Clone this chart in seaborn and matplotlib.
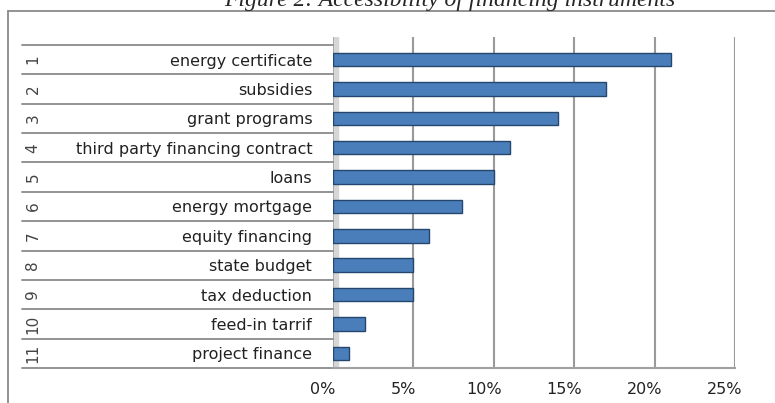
import numpy as np
import pandas as pd
import seaborn as sns
import matplotlib.pyplot as plt
from matplotlib import transforms
from matplotlib.lines import Line2D

# data (percent)
instrumente = ['energy certificate', 'subsidies', 'grant programs',
               'third party financing contract', 'loans', 'energy mortgage',
               'equity financing', 'state budget', 'tax deduction',
               'feed-in tarrif', 'project finance']
numere = ['1', '2', '3', '4', '5', '6', '7', '8', '9', '10', '11']
procente = [21, 17, 14, 11, 10, 8, 6, 5, 5, 2, 1]
ticks_x = [0, 5, 10, 15, 20, 25]
titlu = 'Figure 2: Accessibility of financing instruments'

sns.set_style('white')
plt.rcParams['font.family'] = ['DejaVu Sans']

W, H = 775, 403
fig = plt.figure(figsize=(W / 100, H / 100), dpi=100)
ax = fig.add_axes([333 / W, 1 - 368 / H, 402 / W, 331 / H])

df = pd.DataFrame({'Instrument': instrumente, 'Procent': procente})
sns.barplot(data=df, x='Procent', y='Instrument', orient='h', ax=ax,
            color='#4a7ebb', edgecolor='#25466e', linewidth=1.0,
            width=0.46, saturation=1)

ax.set_xlim(0, 25)
ax.set_ylim(len(instrumente) - 0.5, -0.5 - 0.27)
ax.set_xlabel('')
ax.set_ylabel('')
for s in ['top', 'right', 'left']:
    ax.spines[s].set_visible(False)
ax.spines['bottom'].set_color('#a0a0a0')
ax.spines['bottom'].set_linewidth(1.5)

# grid lines (back wall)
for v in ticks_x[1:]:
    ax.axvline(v, color='#9a9a9a', lw=1.5, zorder=0)
ax.axvspan(0, 0.3, color='#d6d6d6', zorder=0)
ax.axvline(0, color='#a0a0a0', lw=1.2, zorder=0)

ax.set_xticks(ticks_x)
ax.set_xticklabels([f'{t}%' for t in ticks_x], fontsize=11.5, color='#222222')
ax.tick_params(axis='x', length=0, pad=10)
off = transforms.ScaledTranslation(-10 / 100, 0, fig.dpi_scale_trans)
for lab in ax.get_xticklabels():
    lab.set_transform(lab.get_transform() + off)

ax.tick_params(axis='y', length=0, pad=15)
for lab in ax.get_yticklabels():
    lab.set_fontsize(11.5)
    lab.set_color('#222222')

# left table: row lines and numbers
tr = transforms.blended_transform_factory(fig.transFigure, ax.transData)
for i in range(len(instrumente) + 1):
    ax.add_line(Line2D([22 / W, 333 / W], [i - 0.5, i - 0.5], transform=tr,
                       color='#8a8a8a', lw=1.3, clip_on=False))
for i, n in enumerate(numere):
    ax.text(33 / W, i, n, transform=tr, rotation=90, ha='center',
            va='center', fontsize=11, color='#444444')

# outer frame and clipped title
fig.add_artist(Line2D([8 / W, 8 / W], [0, 1 - 11 / H], color='#8a8a8a', lw=1.3))
fig.add_artist(Line2D([8 / W, 1], [1 - 11 / H, 1 - 11 / H], color='#8a8a8a', lw=1.3))
fig.text(450 / W, 1 - 6 / H, titlu, ha='center', va='baseline',
         fontsize=17, style='italic', family=['Liberation Serif', 'DejaVu Serif'])

plt.savefig('out.png', dpi=100)
